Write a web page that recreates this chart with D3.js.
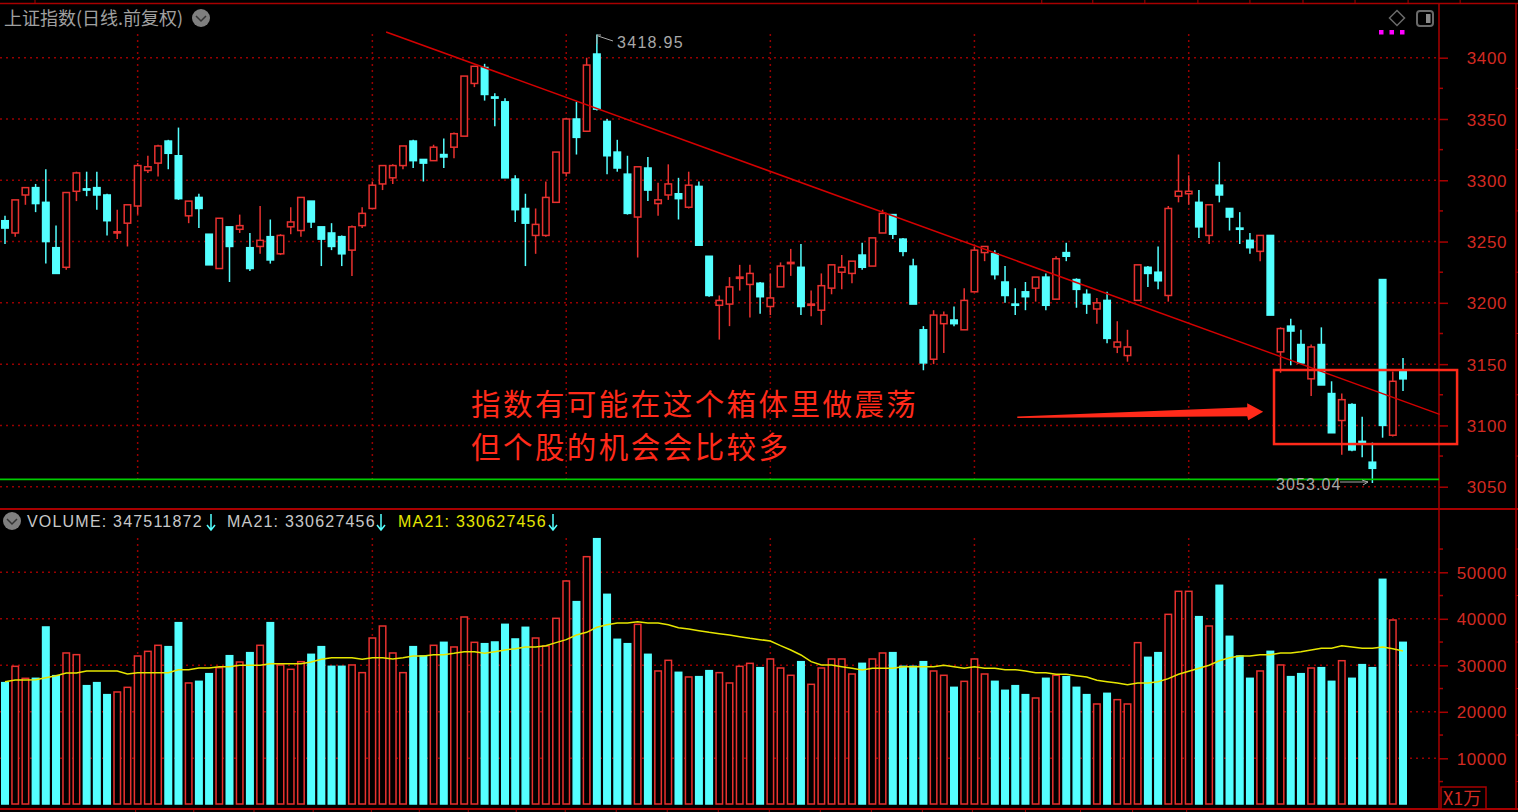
<!DOCTYPE html>
<html>
<head>
<meta charset="utf-8">
<script src="https://cdn.jsdelivr.net/npm/d3@7"></script>
<style>
  html, body { margin: 0; padding: 0; background: #000; overflow: hidden; }
  text { font-family: "Liberation Sans", Arial, sans-serif; }
  .cjk { font-family: "Noto Sans CJK SC", sans-serif; }
</style>
</head>
<body>
<div id="chart"></div>
<script>
// Daily candles
const opens = [3267,3257,3288,3294,3282,3245,3229,3291,3293,3294,3288,3257,3265,3279,3308,3314,3332,3320,3271,3286,3256,3228,3262,3260,3245,3246,3254,3240,3262,3259,3283,3262,3257,3254,3243,3263,3277,3297,3302,3312,3332,3317,3316,3321,3327,3336,3379,3392,3368,3364,3301,3277,3255,3255,3282,3306,3350,3340,3403,3348,3323,3305,3270,3310,3281,3288,3289,3278,3295,3238,3198,3199,3220,3215,3216,3197,3213,3232,3229,3198,3194,3212,3225,3224,3239,3230,3257,3272,3252,3230,3178,3154,3183,3186,3178,3209,3241,3240,3217,3199,3209,3212,3221,3203,3241,3219,3207,3195,3202,3164,3157,3202,3229,3225,3206,3287,3289,3282,3255,3296,3277,3261,3251,3242,3255,3160,3181,3166,3138,3166,3126,3104,3117,3087,3070,3219,3092,3144];
const closes = [3261,3284,3294,3281,3250,3224,3290,3306,3292,3288,3267,3258,3280,3312,3311,3328,3322,3285,3283,3277,3231,3269,3246,3263,3228,3251,3235,3255,3266,3286,3266,3252,3246,3240,3262,3273,3296,3312,3312,3328,3316,3314,3327,3319,3338,3385,3393,3370,3367,3302,3276,3265,3264,3286,3323,3350,3335,3394,3358,3320,3310,3273,3311,3292,3284,3297,3285,3296,3247,3206,3202,3213,3221,3224,3205,3204,3230,3233,3197,3199,3214,3231,3229,3234,3229,3253,3273,3256,3242,3199,3151,3190,3190,3183,3202,3243,3246,3223,3206,3198,3205,3221,3198,3236,3238,3211,3199,3200,3171,3168,3164,3231,3224,3218,3277,3291,3291,3262,3280,3288,3270,3260,3245,3255,3190,3179,3177,3151,3164,3133,3094,3121,3080,3085,3065,3100,3136,3138];
const highs = [3271,3284,3294,3297,3309,3263,3290,3307,3307,3307,3289,3276,3280,3314,3320,3329,3333,3343,3283,3289,3256,3269,3262,3272,3257,3279,3268,3256,3278,3286,3283,3262,3265,3255,3263,3278,3299,3312,3313,3328,3333,3317,3329,3334,3339,3385,3393,3395,3371,3367,3304,3289,3277,3299,3323,3351,3364,3400,3418.95,3350,3333,3320,3311,3319,3298,3313,3302,3307,3299,3238,3206,3221,3231,3231,3217,3224,3233,3244,3248,3210,3224,3231,3239,3234,3249,3253,3276,3272,3253,3236,3181,3194,3193,3197,3212,3246,3246,3243,3230,3212,3217,3221,3224,3238,3249,3220,3211,3204,3209,3185,3178,3231,3230,3246,3279,3321,3304,3292,3280,3315,3277,3274,3257,3255,3255,3180,3187,3178,3166,3180,3136,3126,3118,3107,3086,3219,3144,3155];
const lows = [3248,3254,3280,3274,3232,3224,3227,3283,3287,3276,3255,3252,3246,3272,3306,3303,3309,3284,3265,3261,3231,3228,3217,3257,3226,3240,3232,3239,3256,3254,3261,3230,3243,3230,3222,3261,3277,3292,3297,3309,3310,3299,3316,3310,3318,3336,3376,3365,3344,3302,3266,3230,3240,3254,3282,3303,3321,3340,3357,3305,3307,3272,3237,3283,3271,3284,3268,3277,3247,3205,3170,3181,3210,3188,3191,3190,3213,3222,3190,3189,3182,3207,3211,3216,3227,3230,3257,3252,3238,3199,3145,3150,3159,3181,3178,3209,3234,3219,3200,3190,3194,3201,3194,3203,3234,3196,3191,3183,3167,3159,3152,3202,3213,3211,3201,3282,3280,3253,3248,3282,3259,3248,3240,3234,3190,3143,3149,3151,3124,3133,3094,3076,3079,3074,3053.04,3090,3091,3128];

// Volume in units of 10,000, and its 21 day average
const volumes = [26270,29780,27200,27200,38240,27770,32650,32290,25620,26270,23690,24260,25260,32000,33000,34300,34010,39170,26200,26550,28200,29490,32070,30710,32720,34300,39170,30070,29140,30780,32360,34010,29780,29780,30070,28420,35870,38450,32650,28420,34010,32000,34300,34940,33940,40390,34940,34650,35010,38810,35660,38170,35870,34150,40100,48130,43690,53360,57230,45260,35590,34650,38810,32360,28780,31070,28490,27490,27560,28850,28420,26200,29780,30420,29490,31360,29420,27850,30780,25910,29420,31360,31360,28130,30420,31360,32650,32720,29780,29780,30780,28780,27850,25260,26550,31360,28130,26550,24620,25620,23690,22970,27200,27850,27560,25260,23690,21680,23970,22610,21680,34870,31710,32720,40960,45910,45910,40460,38450,47200,36230,31990,27200,28780,33000,30070,27560,28200,29420,29490,26550,30990,27200,30140,29490,48490,39740,34940];
const ma21 = [26480,26840,26840,26910,27340,27770,28350,28350,28780,28780,28780,28780,28130,28420,28420,28420,28420,29060,29060,29420,29420,29710,29710,29990,29990,29990,30350,30350,30350,30350,30710,31280,31640,31640,31640,31280,31640,31640,31350,31640,32000,32000,32290,32290,32570,32930,32930,32570,32930,33290,33580,33940,33940,34220,34870,35520,36520,37090,38170,38740,39100,39100,39390,39100,39100,38740,38090,37810,37450,37090,36800,36520,36160,35800,35520,35230,34220,33290,32220,30780,30070,30070,29710,29350,28990,29350,29350,29350,29710,29710,29710,29710,30000,29710,29350,29710,29350,29350,29060,29060,28780,28420,28420,28060,28060,27770,27490,26770,26480,26200,25840,26200,26200,26480,27130,28060,28700,29350,30000,30990,31640,32000,32000,32290,32290,32650,32650,32930,33290,33650,33650,34220,33940,33650,33650,33940,33580,33080];

// Axis ticks and date marks (candle positions)
const priceTicks = [3050,3100,3150,3200,3250,3300,3350,3400];
const priceMinorTicks = [3075,3125,3175,3225,3275,3325,3375];
const volumeTicks = [10000,20000,30000,40000,50000];
const volumeMinorTicks = [5000,15000,25000,35000,45000,55000];
const monthStarts = [13,36,55,75,95,116];
const bottomMarks = [12.8,18.5,24.4,30.2,35.9,40.6,45.4,50.1,54.9,59.9,64.9,69.9,74.9,79.9,84.9,89.9,94.8,100,105.4,110.5,115.8];
const topMarks = [2.94,101.6,106.6,111.7,116.9,122,127.2,132.3,137.5,142.6];

// Drawn lines and the notes on top of the chart
const supportLevel = 3056;
const trendLine = [[37.35,3421],[140.6,3109]];
const noteBox = [[124.36,3145.2],[142.3,3084.8]];
const noteArrow = [[99.2,3106.6],[123.3,3111.2]];
const noteLines = ["指数有可能在这个箱体里做震荡","但个股的机会会比较多"];
const title = "上证指数(日线.前复权)";
const width = 1518;
const height = 812;

const red = "#e8312f";
const cyan = "#54ffff";
const frame = "#a80000";
const tickRed = "#d22a22";
const grid = "#980000";
const noteRed = "#ff2a1a";


/*******************************/
/*    Append the containers    */
/*******************************/
const svg = d3.select("#chart")
  .append("svg")
    .attr("viewBox", `0, 0, ${width}, ${height}`)
    .attr("width", width)
    .attr("height", height)
    .style("display", "block")
    .style("background", "#000");


/****************************/
/*    Declare the scales    */
/****************************/
const xScale = d3.scaleLinear()
  .domain([0, opens.length - 1])
  .range([5, 1403]);
const priceScale = d3.scaleLinear()
  .domain([3050, 3400])
  .range([486.7, 57.7]);
const volumeScale = d3.scaleLinear()
  .domain([0, 50000])
  .range([804.8, 572.3]);


/***************************/
/*     Grid and frame      */
/***************************/
const gridLayer = svg.append("g")
  .attr("stroke", grid)
  .attr("stroke-width", 1.5)
  .attr("stroke-dasharray", "2 4");

gridLayer.selectAll(".grid-price")
  .data(priceTicks)
  .join("line")
    .attr("class", "grid-price")
    .attr("x1", 0)
    .attr("x2", 1439)
    .attr("y1", d => priceScale(d))
    .attr("y2", d => priceScale(d));
gridLayer.selectAll(".grid-volume")
  .data(volumeTicks)
  .join("line")
    .attr("class", "grid-volume")
    .attr("x1", 0)
    .attr("x2", 1439)
    .attr("y1", d => volumeScale(d))
    .attr("y2", d => volumeScale(d));
gridLayer.selectAll(".grid-month")
  .data(monthStarts)
  .join("line")
    .attr("class", "grid-month")
    .attr("x1", d => xScale(d))
    .attr("x2", d => xScale(d))
    .attr("y1", 34)
    .attr("y2", 482);
gridLayer.selectAll(".grid-month-volume")
  .data(monthStarts)
  .join("line")
    .attr("class", "grid-month-volume")
    .attr("x1", d => xScale(d))
    .attr("x2", d => xScale(d))
    .attr("y1", 538)
    .attr("y2", 804);

// Outer frame, drawn as plain lines
const frameLines = [
  [0, 3.5, 1518, 3.5, 1.5],
  [0, 509, 1518, 509, 2],
  [0, 809, 1518, 809, 2],
  [1439, 3, 1439, 809, 1.5],
  [1516, 3, 1516, 809, 1.5]
];
svg.append("g")
  .selectAll("line")
  .data(frameLines)
  .join("line")
    .attr("x1", d => d[0])
    .attr("y1", d => d[1])
    .attr("x2", d => d[2])
    .attr("y2", d => d[3])
    .attr("stroke", frame)
    .attr("stroke-width", d => d[4]);


/***************************/
/*     Append the axes     */
/***************************/
const drawAxis = (scale, majors, minors) => {
  const axis = svg.append("g")
    .attr("class", "axis")
    .attr("transform", "translate(1439, 0)")
    .call(d3.axisRight(scale)
      .tickValues(majors)
      .tickFormat(d3.format("d"))
      .tickSize(9)
      .tickSizeOuter(0));
  axis.select(".domain").remove();
  axis.selectAll("line").attr("stroke", frame).attr("stroke-width", 1.5);
  axis.selectAll("text")
    .attr("x", 68)
    .attr("text-anchor", "end")
    .attr("fill", tickRed)
    .style("font-size", "17px")
    .style("letter-spacing", "0.6px")
    .attr("dy", "0.36em");
  svg.append("g")
    .attr("transform", "translate(1439, 0)")
    .selectAll("line")
    .data(minors)
    .join("line")
      .attr("x2", 4)
      .attr("y1", d => scale(d))
      .attr("y2", d => scale(d))
      .attr("stroke", frame)
      .attr("stroke-width", 1.5);
  // Little marks outside the right edge
  svg.append("g")
    .attr("transform", "translate(1516, 0)")
    .selectAll("line")
    .data(minors)
    .join("line")
      .attr("x2", 2)
      .attr("y1", d => scale(d))
      .attr("y2", d => scale(d))
      .attr("stroke", frame);
};
drawAxis(priceScale, priceTicks, priceMinorTicks);
drawAxis(volumeScale, volumeTicks, volumeMinorTicks);

// Date marks above and below the panels
svg.append("g")
  .selectAll("line")
  .data(bottomMarks)
  .join("line")
    .attr("x1", d => xScale(d))
    .attr("x2", d => xScale(d))
    .attr("y1", 809)
    .attr("y2", 812)
    .attr("stroke", frame);
svg.append("g")
  .selectAll("line")
  .data(topMarks)
  .join("line")
    .attr("x1", d => xScale(d))
    .attr("x2", d => xScale(d))
    .attr("y1", 0)
    .attr("y2", 3)
    .attr("stroke", frame);


/***********************/
/*     Candlesticks    */
/***********************/
const isUp = i => closes[i] >= opens[i];
const colorOf = i => isUp(i) ? red : cyan;

const candles = svg.append("g")
  .selectAll("g")
  .data(d3.range(opens.length))
  .join("g");
candles.append("line")
  .attr("x1", i => xScale(i))
  .attr("x2", i => xScale(i))
  .attr("y1", i => priceScale(highs[i]))
  .attr("y2", i => priceScale(lows[i]))
  .attr("stroke", colorOf)
  .attr("stroke-width", 1.5);
candles.append("rect")
  .attr("x", i => xScale(i) - 3.25)
  .attr("width", 6.5)
  .attr("y", i => priceScale(Math.max(opens[i], closes[i])))
  .attr("height", i => Math.abs(priceScale(opens[i]) - priceScale(closes[i])))
  .attr("fill", i => isUp(i) ? "#000" : cyan)
  .attr("stroke", colorOf)
  .attr("stroke-width", 1.5);


/***********************/
/*     Volume bars     */
/***********************/
svg.append("g")
  .selectAll("rect")
  .data(volumes)
  .join("rect")
    .attr("x", (d, i) => xScale(i) - 3.25)
    .attr("width", 6.5)
    .attr("y", d => volumeScale(d))
    .attr("height", d => volumeScale(0) - volumeScale(d) - 0.8)
    .attr("fill", (d, i) => isUp(i) ? "#000" : cyan)
    .attr("stroke", (d, i) => colorOf(i))
    .attr("stroke-width", 1.5);

const maLine = d3.line()
  .x((d, i) => xScale(i))
  .y(d => volumeScale(d));
svg.append("path")
  .attr("d", maLine(ma21))
  .attr("fill", "none")
  .attr("stroke", "#e6e600")
  .attr("stroke-width", 1.5);


/***********************/
/*   Lines and notes   */
/***********************/
svg.append("line")
  .attr("x1", 0)
  .attr("x2", 1439)
  .attr("y1", priceScale(supportLevel))
  .attr("y2", priceScale(supportLevel))
  .attr("stroke", "#00cc00")
  .attr("stroke-width", 1.8);
svg.append("line")
  .attr("x1", xScale(trendLine[0][0]))
  .attr("y1", priceScale(trendLine[0][1]))
  .attr("x2", xScale(trendLine[1][0]))
  .attr("y2", priceScale(trendLine[1][1]))
  .attr("stroke", "#d40000")
  .attr("stroke-width", 1.5);

svg.append("rect")
  .attr("x", xScale(noteBox[0][0]))
  .attr("y", priceScale(noteBox[0][1]))
  .attr("width", xScale(noteBox[1][0]) - xScale(noteBox[0][0]))
  .attr("height", priceScale(noteBox[1][1]) - priceScale(noteBox[0][1]))
  .attr("fill", "none")
  .attr("stroke", noteRed)
  .attr("stroke-width", 2.5);

// Tapered arrow, thin tail to wide head
const ax0 = xScale(noteArrow[0][0]), ay0 = priceScale(noteArrow[0][1]);
const ax1 = xScale(noteArrow[1][0]), ay1 = priceScale(noteArrow[1][1]);
svg.append("path")
  .attr("d", `M${ax0},${ay0 - 0.7} L${ax1 - 16},${ay1 - 4.5} L${ax1 - 16},${ay1 - 8.5} L${ax1},${ay1} L${ax1 - 15},${ay1 + 8.5} L${ax1 - 16},${ay1 + 4.5} L${ax0},${ay0 + 0.7} Z`)
  .attr("fill", noteRed);

svg.append("g")
  .selectAll("text")
  .data(noteLines)
  .join("text")
    .attr("class", "cjk")
    .attr("x", 471)
    .attr("y", (d, i) => 415 + i * 43)
    .attr("fill", noteRed)
    .style("font-size", "29.5px")
    .style("letter-spacing", "2.45px")
    .text(d => d);

// High and low labels
svg.append("text")
  .attr("x", 617)
  .attr("y", 48)
  .attr("fill", "#a8a8a8")
  .style("font-size", "16px")
  .style("letter-spacing", "1.3px")
  .text(d3.format(".2f")(highs[58]));
svg.append("path")
  .attr("d", `M${xScale(58)},44 V35 H601 M598,36 L613,41`)
  .attr("fill", "none")
  .attr("stroke", "#a8a8a8");
svg.append("text")
  .attr("x", 1276)
  .attr("y", 490)
  .attr("fill", "#a8a8a8")
  .style("font-size", "16px")
  .style("letter-spacing", "1.1px")
  .text(d3.format(".2f")(lows[134]));
svg.append("path")
  .attr("d", "M1340,482 H1368 M1362,480 L1368,482 L1363,485")
  .attr("fill", "none")
  .attr("stroke", "#a8a8a8");


/***********************/
/*   Header and icons  */
/***********************/
svg.append("text")
  .attr("class", "cjk")
  .attr("x", 4)
  .attr("y", 24.5)
  .attr("fill", "#a0a0a0")
  .style("font-size", "18px")
  .text(title);

const drawChevron = (cx, cy, r) => {
  svg.append("circle")
    .attr("cx", cx).attr("cy", cy).attr("r", r)
    .attr("fill", "#7f7f7f");
  svg.append("path")
    .attr("d", `M${cx - 5},${cy - 2} L${cx},${cy + 3} L${cx + 5},${cy - 2}`)
    .attr("fill", "none")
    .attr("stroke", "#333")
    .attr("stroke-width", 1.5);
};
drawChevron(201, 18, 9);
drawChevron(12, 521, 9);

// Legend row of the volume panel
const legend = [
  { label: "VOLUME: 347511872", x: 27, color: "#c8c8c8", arrow: 211 },
  { label: "MA21: 330627456", x: 227, color: "#c8c8c8", arrow: 381 },
  { label: "MA21: 330627456", x: 398, color: "#e6e600", arrow: 553 }
];
legend.forEach(d => {
  svg.append("text")
    .attr("x", d.x)
    .attr("y", 527)
    .attr("fill", d.color)
    .style("font-size", "16px")
    .style("letter-spacing", "1.2px")
    .text(d.label);
  svg.append("path")
    .attr("d", `M${d.arrow},514 V530 M${d.arrow - 4},525 L${d.arrow},530 L${d.arrow + 4},525`)
    .attr("fill", "none")
    .attr("stroke", cyan)
    .attr("stroke-width", 1.5);
});

// Tool icons at the top right
svg.append("path")
  .attr("d", "M1397,10.5 L1404.5,18 L1397,25.5 L1389.5,18 Z")
  .attr("fill", "none")
  .attr("stroke", "#6a6a6a")
  .attr("stroke-width", 1.5);
svg.append("rect")
  .attr("x", 1417).attr("y", 11).attr("width", 16).attr("height", 15).attr("rx", 3)
  .attr("fill", "none")
  .attr("stroke", "#6a6a6a")
  .attr("stroke-width", 2);
svg.append("rect")
  .attr("x", 1426).attr("y", 14).attr("width", 4.5).attr("height", 9)
  .attr("fill", "#8a8a8a");
svg.append("g")
  .selectAll("rect")
  .data([0, 1, 2])
  .join("rect")
    .attr("x", d => 1379 + d * 10.5)
    .attr("y", 30)
    .attr("width", 4.5)
    .attr("height", 4.5)
    .attr("fill", "#ff00ff");

// Volume unit box
svg.append("rect")
  .attr("x", 1441).attr("y", 787).attr("width", 45).attr("height", 22)
  .attr("fill", "#000")
  .attr("stroke", frame)
  .attr("stroke-width", 1.5);
svg.append("text")
  .attr("class", "cjk")
  .attr("x", 1443)
  .attr("y", 805)
  .attr("fill", tickRed)
  .style("font-size", "18px")
  .text("X1万");
</script>
</body>
</html>
